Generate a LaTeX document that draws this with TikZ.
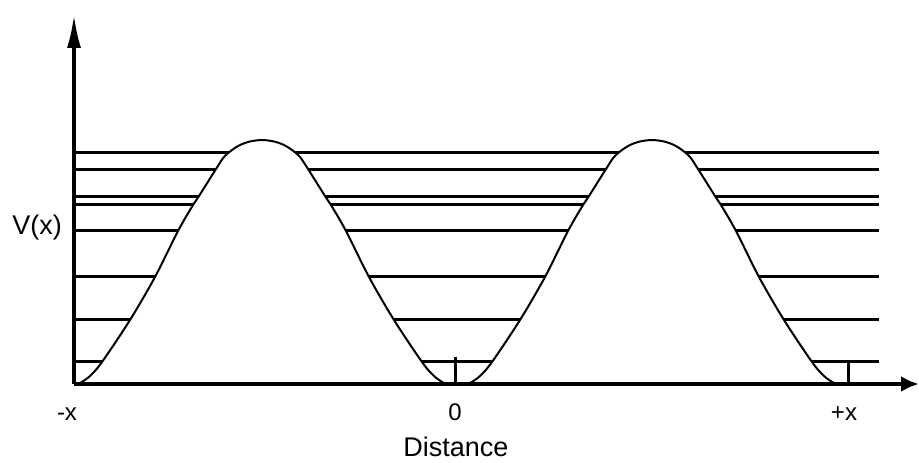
\documentclass[tikz,border=0pt]{standalone}
\usepackage{fontspec}
\setmainfont{Liberation Sans}
\usetikzlibrary{arrows.meta}

\begin{document}
\begin{tikzpicture}[
    x=1pt, y=1pt,
    yaxis/.style={line width=4.2pt, -{Latex[length=35pt,width=14pt]}},
    xaxis/.style={line width=4.2pt, -{Latex[length=18pt,width=16pt]}},
    level/.style={line width=3pt},
    barrier/.style={line width=2pt, line join=round, fill=white},
    tickmark/.style={line width=3pt},
    lbl/.style={font=\fontsize{24}{26}\selectfont, inner sep=0pt, anchor=base},
    title/.style={font=\fontsize{27}{30}\selectfont, inner sep=0pt, anchor=base}]
  \useasboundingbox (0,0) rectangle (919,463);
  \coordinate (origin) at (74,79);
  \coordinate (ytip) at (74,450);
  \coordinate (xtip) at (919,79);

  % energy levels
  \foreach \y in {310,293,266,258,232,186,143,101}
    \draw[level] (74,\y) -- (879,\y);

  % the two barriers
  \foreach \c in {262,652}
    \filldraw[barrier, shift={(\c,0)}] plot[smooth] coordinates {
      (-188,79) (-182,80) (-172,87) (-160,101) (-132,143) (-107,186)
      (-84,232) (-69,258) (-63,267) (-46,294) (-38,306) (-30,313)
      (-22,318) (-12,321.5) (0,323) (12,321.5) (22,318) (30,313)
      (38,306) (46,294) (63,267) (69,258) (84,232) (107,186)
      (132,143) (160,101) (172,87) (182,80) (188,79)};

  \draw[tickmark] (455,79) -- (455,106);
  \draw[tickmark] (848,79) -- (848,100);

  \draw[yaxis] (origin) -- (ytip);
  \draw[xaxis] (origin) -- (xtip);

  \node[title] (vlabel) at (37,228) {V(x)};
  \node[title] (dist) at (456,6) {Distance};
  \node[lbl] (xminus) at (67,42) {-x};
  \node[lbl] (zero) at (455,42) {0};
  \node[lbl] (xplus) at (844,42) {+x};
\end{tikzpicture}
\end{document}
